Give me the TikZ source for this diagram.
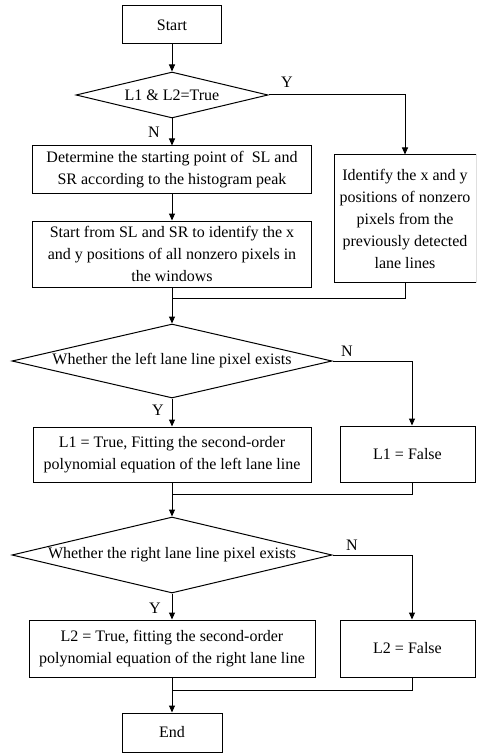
\documentclass[tikz,border=0pt]{standalone}
\usepackage{fontspec}
\setmainfont{Liberation Serif}
\usetikzlibrary{shapes.geometric,arrows.meta}
\begin{document}
\begin{tikzpicture}[x=1pt,y=-1pt,
  box/.style={draw,line width=1pt,rectangle,inner sep=0pt,align=center,font=\fontsize{16}{22}\selectfont},
  decision/.style={draw,line width=1pt,diamond,inner sep=0pt},
  arr/.style={line width=1pt,-{Triangle[length=7pt,width=6pt]}},
  conn/.style={line width=1pt},
  lbl/.style={font=\fontsize{16}{22}\selectfont,inner sep=0pt}]
\useasboundingbox (0,0) rectangle (476,754);
\clip (0,0) rectangle (476,754);
\node[box,minimum width=99pt,minimum height=38pt] (start) at (172,25) {Start};
\node[decision,minimum width=192pt,minimum height=46pt,label={[lbl]center:L1 \& L2=True}] (d1) at (172,95) {};
\node[box,minimum width=279pt,minimum height=47pt] (b2) at (172,169.5) {Determine the starting point of \ SL and\\SR according to the histogram peak};
\node[box,minimum width=142pt,minimum height=127pt] (rb) at (405,218.5) {Identify the x and y\\positions of nonzero\\pixels from the\\previously detected\\lane lines};
\node[box,minimum width=279pt,minimum height=66pt] (b3) at (172,254) {Start from SL and SR to identify the x\\and y positions of all nonzero pixels in\\the windows};
\coordinate (j1) at (172,298);
\node[decision,minimum width=320pt,minimum height=74pt,label={[lbl]center:Whether the left lane line pixel exists}] (d2) at (172,361) {};
\node[box,minimum width=278pt,minimum height=55pt] (b4) at (172,454.5) {L1 = True, Fitting the second-order\\polynomial equation of the left lane line};
\node[box,minimum width=135pt,minimum height=56pt] (f1) at (407.5,454) {L1 = False};
\coordinate (j2) at (172,494);
\node[decision,minimum width=320pt,minimum height=76pt,label={[lbl]center:Whether the right lane line pixel exists}] (d3) at (172,555) {};
\node[box,minimum width=286pt,minimum height=57pt] (b5) at (172,648.5) {L2 = True, fitting the second-order\\polynomial equation of the right lane line};
\node[box,minimum width=135pt,minimum height=57pt] (f2) at (407.5,648.5) {L2 = False};
\coordinate (j3) at (172,690);
\node[box,minimum width=100pt,minimum height=39pt] (end) at (172,732.5) {End};
\draw[arr] (start) -- (d1);
\draw[arr] (d1) -- (b2);
\draw[arr] (d1.east) -| (rb.north);
\draw[arr] (b2) -- (b3);
\draw[conn] (rb.south) |- (j1);
\draw[arr] (b3.south) -- (d2.north);
\draw[arr] (d2.south) -- (b4.north);
\draw[arr] (d2.east) -| ([xshift=4.5pt]f1.north);
\draw[conn] ([xshift=4.5pt]f1.south) |- (j2);
\draw[arr] (b4.south) -- (d3.north);
\draw[arr] (d3.south) -- (b5.north);
\draw[arr] (d3.east) -| ([xshift=4.5pt]f2.north);
\draw[conn] ([xshift=4.5pt]f2.south) |- (j3);
\draw[arr] (b5.south) -- (end.north);
\node[lbl] (y1) at (287,82) {Y};
\node[lbl] (n1) at (154,132) {N};
\node[lbl] (n2) at (347,351) {N};
\node[lbl] (y2) at (158,410) {Y};
\node[lbl] (n3) at (352,545) {N};
\node[lbl] (y3) at (155,608) {Y};
\end{tikzpicture}
\end{document}
